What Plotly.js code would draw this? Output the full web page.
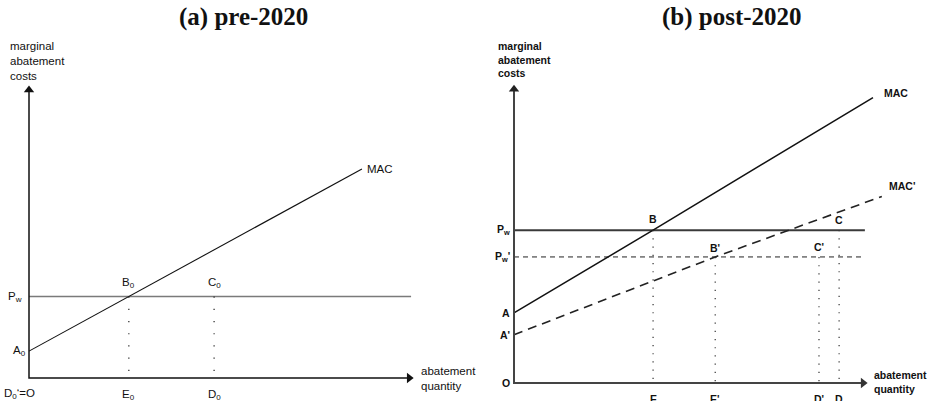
<!DOCTYPE html>
<html>
<head>
<meta charset="utf-8">
<script src="https://cdn.plot.ly/plotly-3.0.1.min.js"></script>
<style>html,body{margin:0;padding:0;background:#fff;}#chart{width:934px;height:401px;}</style>
</head>
<body>
<div id="chart"></div>
<script>
// ---------- Panel (a) pre-2020 (schematic units) ----------
const aAxisX = [0, 0, 99];        // y-axis line then origin then x-axis end
const aAxisY = [98.6, 0, 0];
const aMacX = [0, 26, 86.7];      // A0, B0, end of MAC
const aMacY = [9.2, 27.9, 71.6];
const aPwX = [0, 99.5];
const aPwY = [27.9, 27.9];
const aDropX = [26, 48.2];        // E0, D0
const aLabelText = ['B<sub>0</sub>', 'C<sub>0</sub>', 'E<sub>0</sub>', 'D<sub>0</sub>'];

// ---------- Panel (b) post-2020 (schematic units) ----------
const bAxisX = [0, 0, 98.9];
const bAxisY = [98.6, 0, 0];
const bMacX = [0, 39.4, 101.7];   // A, B, end of MAC
const bMacY = [23.5, 51.3, 95.8];
const bMac2X = [0, 57, 104.2];    // A', B', end of MAC'
const bMac2Y = [16.2, 42.3, 62.6];
const bPw = 51.3;
const bPw2 = 42.3;
const bLineEnd = 99.4;
const bDropPwX = [39.4, 92.1];    // E, D
const bDropPw2X = [57, 86.4];     // E', D'

const titles = ['(a) pre-2020', '(b) post-2020'];

const sans = 'Liberation Sans, Arial, sans-serif';
const aFont = {family: sans, size: 11.5, color: '#111'};
const bFont = {family: sans, size: 10.5, color: '#111', weight: 'bold'};
const tFont = {family: 'Liberation Serif, Times New Roman, serif', size: 25, color: '#111', weight: 'bold'};

const traces = [];
function line(x, y, xa, ya, color, width, dash) {
  traces.push({x: x, y: y, xaxis: xa, yaxis: ya, mode: 'lines', hoverinfo: 'skip',
    line: {color: color, width: width, dash: dash || 'solid'}});
}
function tip(x, y, xa, ya, sym, color) {
  traces.push({x: [x], y: [y], xaxis: xa, yaxis: ya, mode: 'markers', hoverinfo: 'skip',
    marker: {symbol: sym, size: 9, color: color, line: {width: 0}}});
}

// Panel (a)
line(aPwX, aPwY, 'x', 'y', '#7a7a7a', 1.6);
line(aMacX, aMacY, 'x', 'y', '#111', 1.1);
aDropX.forEach(function (dx) { line([dx, dx], [aPwY[0], 0], 'x', 'y', '#222', 1.2, '1.2px,11px'); });
line(aAxisX, aAxisY, 'x', 'y', '#111', 1.5);
tip(aAxisX[0], aAxisY[0], 'x', 'y', 'triangle-up', '#111');
tip(aAxisX[2], aAxisY[2], 'x', 'y', 'triangle-right', '#111');

// Panel (b)
line([0, bLineEnd], [bPw, bPw], 'x2', 'y2', '#3a3a3a', 2);
line([0, bLineEnd], [bPw2, bPw2], 'x2', 'y2', '#222', 1, '5px,4px');
line(bMacX, bMacY, 'x2', 'y2', '#111', 1.5);
line(bMac2X, bMac2Y, 'x2', 'y2', '#222', 1.6, '9px,6px');
bDropPwX.forEach(function (dx) { line([dx, dx], [bPw, 0], 'x2', 'y2', '#333', 1.2, '1.2px,7px'); });
bDropPw2X.forEach(function (dx) { line([dx, dx], [bPw2, 0], 'x2', 'y2', '#333', 1.2, '1.2px,7px'); });
line(bAxisX, bAxisY, 'x2', 'y2', '#444', 2);
tip(bAxisX[0], bAxisY[0], 'x2', 'y2', 'triangle-up', '#222');
tip(bAxisX[2], bAxisY[2], 'x2', 'y2', 'triangle-right', '#333');

function lab(text, x, y, xa, ya, font, xanchor, yanchor) {
  return {text: text, x: x, y: y, xref: xa, yref: ya, showarrow: false, font: font,
    xanchor: xanchor || 'center', yanchor: yanchor || 'middle', align: 'left'};
}

const ann = [
  {text: titles[0], x: 244 / 934, y: 1 - 17 / 401, xref: 'paper', yref: 'paper', showarrow: false,
   xanchor: 'center', yanchor: 'middle', font: tFont},
  {text: titles[1], x: 732 / 934, y: 1 - 17 / 401, xref: 'paper', yref: 'paper', showarrow: false,
   xanchor: 'center', yanchor: 'middle', font: tFont},

  // panel (a)
  lab('marginal<br>abatement<br>costs', -5.5, 108.6, 'x', 'y', aFont, 'left'),
  lab('abatement<br>quantity', 101.6, 0, 'x', 'y', aFont, 'left'),
  lab('MAC', 87.5, 71.6, 'x', 'y', aFont, 'left'),
  lab('P<sub>w</sub>', -1.4, aPwY[0], 'x', 'y', aFont, 'right'),
  lab('A<sub>0</sub>', -0.2, aMacY[0], 'x', 'y', aFont, 'right'),
  lab(aLabelText[0], aDropX[0], aPwY[0] + 4.8, 'x', 'y', aFont),
  lab(aLabelText[1], aDropX[1], aPwY[0] + 4.8, 'x', 'y', aFont),
  lab(aLabelText[2], aDropX[0], -5.8, 'x', 'y', aFont),
  lab(aLabelText[3], aDropX[1], -5.8, 'x', 'y', aFont),
  lab('D<sub>0</sub>\u2018=O', -2.6, -5.4, 'x', 'y', aFont),

  // panel (b)
  lab('marginal<br>abatement<br>costs', -5.1, 108.7, 'x2', 'y2', bFont, 'left'),
  lab('abatement<br>quantity', 101.4, 0.5, 'x2', 'y2', bFont, 'left'),
  lab('MAC', 104.2, 97.3, 'x2', 'y2', bFont, 'left'),
  lab("MAC'", 105.6, 66.1, 'x2', 'y2', bFont, 'left'),
  lab('O', -0.6, 0, 'x2', 'y2', bFont, 'right'),
  lab('A', -0.6, bMacY[0], 'x2', 'y2', bFont, 'right'),
  lab("A'", -0.6, bMac2Y[0], 'x2', 'y2', bFont, 'right'),
  lab('P<sub>w</sub>', -0.6, bPw, 'x2', 'y2', bFont, 'right'),
  lab("P<sub>w</sub>'", -0.6, bPw2, 'x2', 'y2', bFont, 'right'),
  lab('B', bDropPwX[0], bPw + 3.9, 'x2', 'y2', bFont),
  lab('C', bDropPwX[1], bPw + 3.4, 'x2', 'y2', bFont),
  lab("B'", bDropPw2X[0], bPw2 + 3.0, 'x2', 'y2', bFont),
  lab("C'", bDropPw2X[1], bPw2 + 3.4, 'x2', 'y2', bFont),
  lab('E', bDropPwX[0], -5.2, 'x2', 'y2', bFont),
  lab('D', bDropPwX[1], -5.2, 'x2', 'y2', bFont),
  lab("E'", bDropPw2X[0], -5.2, 'x2', 'y2', bFont),
  lab("D'", bDropPw2X[1], -5.2, 'x2', 'y2', bFont)
];

const hidden = {visible: false, fixedrange: true};
const layout = {
  width: 934, height: 401,
  margin: {l: 0, r: 0, t: 0, b: 0},
  paper_bgcolor: '#fff', plot_bgcolor: '#fff',
  showlegend: false,
  xaxis: Object.assign({domain: [0, 460 / 934], range: [-29 / 3.84, 431 / 3.84]}, hidden),
  yaxis: Object.assign({domain: [0, 1], range: [-23 / 2.92, 378 / 2.92]}, hidden),
  xaxis2: Object.assign({domain: [460 / 934, 1], range: [-54 / 3.53, 420 / 3.53], anchor: 'y2'}, hidden),
  yaxis2: Object.assign({domain: [0, 1], range: [-18 / 2.98, 383 / 2.98], anchor: 'x2'}, hidden),
  annotations: ann
};

Plotly.newPlot('chart', traces, layout, {staticPlot: true, displayModeBar: false});
</script>
</body>
</html>
